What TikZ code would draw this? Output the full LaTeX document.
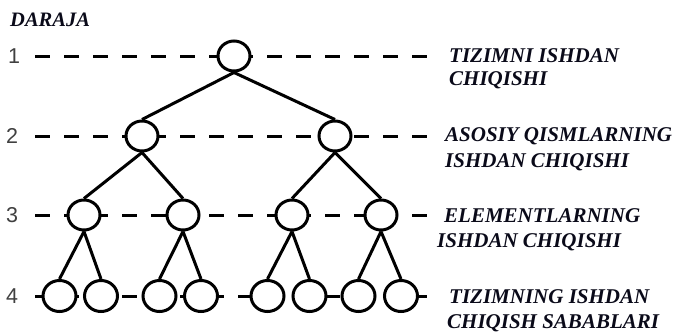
\documentclass[tikz,border=0pt]{standalone}
\usepackage{fontspec}
\setmainfont{Liberation Serif}
\newfontfamily\digitfont{Liberation Sans}
\usetikzlibrary{shapes.geometric}
\begin{document}
\begin{tikzpicture}[x=1pt,y=-1pt,
  vert/.style={ellipse,draw,line width=3pt,fill=white,minimum width=32pt,minimum height=30pt,inner sep=0pt},
  leaf/.style={vert,minimum width=33pt,minimum height=31pt},
  edge/.style={line width=3pt},
  lvl/.style={line width=3pt,dash pattern=on 15pt off 14pt},
  num/.style={font=\digitfont\fontsize{21.5}{22}\selectfont,text=black!75,inner sep=0pt},
  lbl/.style={anchor=base west,inner sep=0pt,font=\fontsize{21}{24}\selectfont\bfseries\itshape,text={rgb,255:red,10;green,10;blue,25}}
]
\useasboundingbox (0,0) rectangle (677,332);
% level lines
\foreach \y/\n/\x in {56/1/14,136/2/12,215/3/12,296/4/12}{
  \coordinate (s\n) at (35,\y);
  \coordinate (e\n) at (430,\y);
  \draw[lvl] (s\n) -- (e\n);
  \node[num] (n\n) at (\x,\y) {\n};
}
% tree nodes
\node[vert] (r) at (234,56) {};
\node[vert] (a) at (142,136) {};
\node[vert] (b) at (335,136) {};
\node[vert] (a1) at (84,215) {};
\node[vert] (a2) at (183,215) {};
\node[vert] (b1) at (292,215) {};
\node[vert] (b2) at (381,215) {};
\node[leaf] (c1) at (59.5,296) {};
\node[leaf] (c2) at (101,296) {};
\node[leaf] (c3) at (159.5,296) {};
\node[leaf] (c4) at (201,296) {};
\node[leaf] (c5) at (267.5,296) {};
\node[leaf] (c6) at (309.5,296) {};
\node[leaf] (c7) at (358.5,296) {};
\node[leaf] (c8) at (401,296) {};
% edges
\foreach \p/\c in {r/a,r/b,a/a1,a/a2,b/b1,b/b2,a1/c1,a1/c2,a2/c3,a2/c4,b1/c5,b1/c6,b2/c7,b2/c8}{
  \draw[edge] (\p.south) -- (\c.north);
}
% texts
\node[lbl,font=\fontsize{20.5}{24}\selectfont\bfseries\itshape] (t0) at (10,26) {DARAJA};
\node[lbl] (t1a) at (449,62) {TIZIMNI ISHDAN};
\node[lbl] (t1b) at (449,85) {CHIQISHI};
\node[lbl] (t2a) at (445,141) {ASOSIY QISMLARNING};
\node[lbl] (t2b) at (445,167) {ISHDAN CHIQISHI};
\node[lbl] (t3a) at (444,222) {ELEMENTLARNING};
\node[lbl] (t3b) at (437,247) {ISHDAN CHIQISHI};
\node[lbl] (t4a) at (449,303) {TIZIMNING ISHDAN};
\node[lbl] (t4b) at (447,328) {CHIQISH SABABLARI};
\end{tikzpicture}
\end{document}
